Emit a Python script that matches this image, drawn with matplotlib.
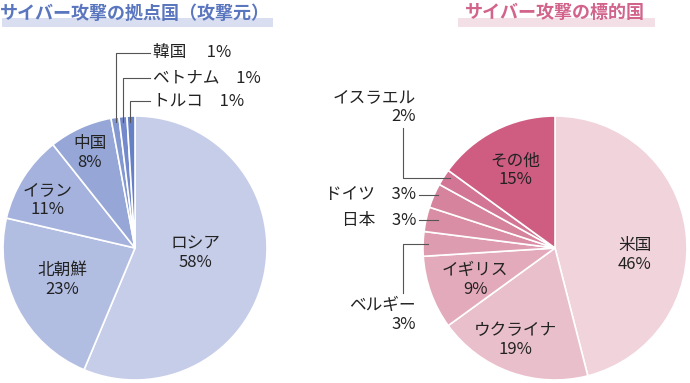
import matplotlib
matplotlib.use('Agg')
import matplotlib.pyplot as plt
from matplotlib.patches import Rectangle

plt.rcParams['font.family'] = ['Noto Sans CJK JP', 'DejaVu Sans']

# 攻撃元 (source countries)
src_labels = ['ロシア', '北朝鮮', 'イラン', '中国', '韓国', 'ベトナム', 'トルコ']
src_values = [58, 23, 11, 8, 1, 1, 1]
src_colors = ['#c6cde9', '#b2bde2', '#a4b2dd', '#96a7d7', '#8398d1', '#7489cb', '#6680c6']

# 標的国 (target countries)
tgt_labels = ['米国', 'ウクライナ', 'イギリス', 'ベルギー', '日本', 'ドイツ', 'イスラエル', 'その他']
tgt_values = [46, 19, 9, 3, 3, 3, 2, 15]
tgt_colors = ['#f0d3db', '#e9bfcb', '#e3aabb', '#dd9cb0', '#d98ea5', '#d6849d', '#d37594', '#cf5d82']

W, H = 690, 383
fig = plt.figure(figsize=(6.9, 3.83), dpi=100)
txt = '#222222'
lc = '#555555'
fs = 12
R = 132


def pie_axes(cx, cy, values, colors):
    ax = fig.add_axes([(cx - R) / W, (H - cy - R) / H, 2 * R / W, 2 * R / H])
    ax.pie(values, colors=colors, startangle=90, counterclock=False, radius=1,
           wedgeprops=dict(edgecolor='white', linewidth=1.2))
    ax.set_xlim(-1, 1)
    ax.set_ylim(-1, 1)
    ax.set_aspect('equal')
    ax.axis('off')
    return ax


def px(cx, cy, x, y):
    return (x - cx) / R, (cy - y) / R


# left pie
lcx, lcy = 135, 248
ax1 = pie_axes(lcx, lcy, src_values, src_colors)
inner = {'ロシア': (195, 253), '北朝鮮': (62, 280), 'イラン': (48, 200), '中国': (90, 153)}
for lab, v in zip(src_labels, src_values):
    if lab in inner:
        x, y = px(lcx, lcy, *inner[lab])
        ax1.text(x, y, f'{lab}\n{v}%', ha='center', va='center', fontsize=fs,
                 color=txt, linespacing=1.1)

# leader lines for the 1% slices
small = [('韓国', 116, 53, '\u3000 '), ('ベトナム', 123, 78, '\u3000'), ('トルコ', 130, 101, '\u3000')]
for (lab, lx, ly, gap) in small:
    v = src_values[src_labels.index(lab)]
    x0, y0 = px(lcx, lcy, lx, 122)
    x1, y1 = px(lcx, lcy, lx, ly)
    x2, _ = px(lcx, lcy, 150, ly)
    ax1.plot([x0, x1, x2], [y0, y1, y1], color=lc, lw=0.8, clip_on=False)
    ax1.text(x2 + 0.02, y1, f'{lab}{gap}{v}%', ha='left', va='center',
             fontsize=fs, color=txt)

# right pie
rcx, rcy = 555, 248
ax2 = pie_axes(rcx, rcy, tgt_values, tgt_colors)
inner = {'米国': (635, 255), 'ウクライナ': (515, 340), 'イギリス': (475, 280), 'その他': (515, 170)}
for lab, v in zip(tgt_labels, tgt_values):
    if lab in inner:
        x, y = px(rcx, rcy, *inner[lab])
        ax2.text(x, y, f'{lab}\n{v}%', ha='center', va='center', fontsize=fs,
                 color=txt, linespacing=1.1)

# イスラエル
pts = [px(rcx, rcy, 403, 128), px(rcx, rcy, 403, 178), px(rcx, rcy, 450, 178)]
ax2.plot([p[0] for p in pts], [p[1] for p in pts], color=lc, lw=0.8, clip_on=False)
x, y = px(rcx, rcy, 416, 107)
ax2.text(x, y, 'イスラエル\n2%', ha='right', va='center', fontsize=fs, color=txt,
         linespacing=1.1)
# ドイツ, 日本
for lab, yy in [('ドイツ', 195), ('日本', 220)]:
    v = tgt_values[tgt_labels.index(lab)]
    a = px(rcx, rcy, 419, yy)
    b = px(rcx, rcy, 438, yy)
    ax2.plot([a[0], b[0]], [a[1], b[1]], color=lc, lw=0.8, clip_on=False)
    ax2.text(a[0] - 0.02, a[1], f'{lab}\u3000{v}%', ha='right', va='center',
             fontsize=fs, color=txt)
# ベルギー
pts = [px(rcx, rcy, 428, 244), px(rcx, rcy, 403, 244), px(rcx, rcy, 403, 293)]
ax2.plot([p[0] for p in pts], [p[1] for p in pts], color=lc, lw=0.8, clip_on=False)
x, y = px(rcx, rcy, 416, 315)
ax2.text(x, y, 'ベルギー\n3%', ha='right', va='center', fontsize=fs, color=txt,
         linespacing=1.1)

# titles with highlight bands
fig.patches.append(Rectangle((2 / W, 1 - 27 / H), 271 / W, 9 / H, transform=fig.transFigure,
                             facecolor='#d9dff0', edgecolor='none', zorder=0))
fig.patches.append(Rectangle((458 / W, 1 - 27 / H), 197 / W, 9 / H, transform=fig.transFigure,
                             facecolor='#f3dfe6', edgecolor='none', zorder=0))
fig.text(135 / W, 1 - 13 / H, 'サイバー攻撃の拠点国（攻撃元）', ha='center', va='center',
         fontsize=13, fontweight='bold', color='#5a76bf')
fig.text(555 / W, 1 - 13 / H, 'サイバー攻撃の標的国', ha='center', va='center',
         fontsize=13, fontweight='bold', color='#d2648c')

fig.savefig('out.png', dpi=100)
